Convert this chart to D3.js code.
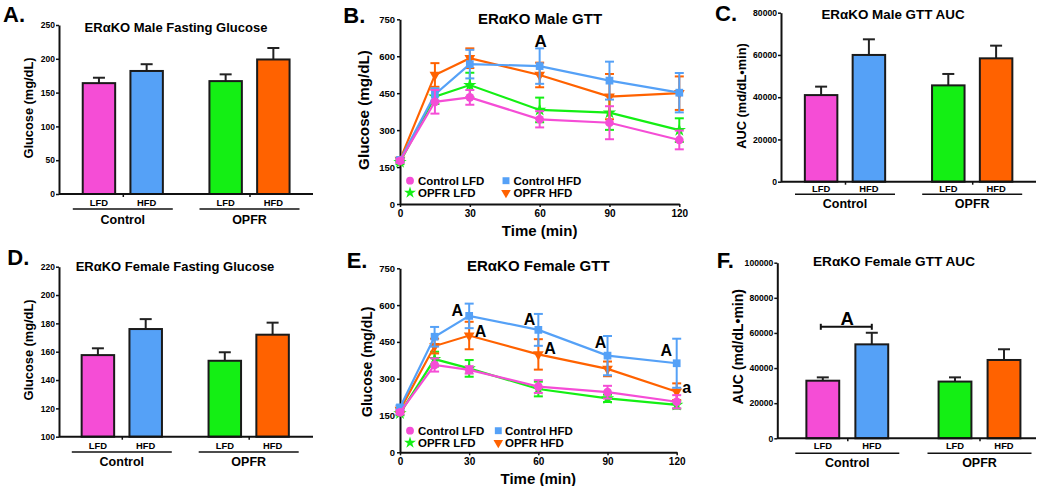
<!DOCTYPE html>
<html><head><meta charset="utf-8">
<script src="https://cdn.jsdelivr.net/npm/d3@7"></script>
<style>
body{margin:0;background:#fff}
svg{display:block}
text{font-family:"Liberation Sans",Arial,Helvetica,sans-serif;font-weight:bold;fill:#000}
</style>
</head><body>
<svg id="c" width="1050" height="486"></svg>
<script>
// ---------------- DATA ----------------
const groups = ["Control", "OPFR"];
const diets = ["LFD", "HFD"];
const seriesNames = ["Control LFD", "Control HFD", "OPFR LFD", "OPFR HFD"];

// Fasting glucose / AUC bars (order: Control LFD, Control HFD, OPFR LFD, OPFR HFD)
const maleFastingMean = [164, 182, 167, 199];
const maleFastingSem = [8, 10, 10, 17];
const maleAucMean = [41000, 60000, 45600, 58400];
const maleAucSem = [4000, 7400, 5400, 6000];
const femaleFastingMean = [157.6, 176, 153.6, 172];
const femaleFastingSem = [4.8, 7, 6, 8.5];
const femaleAucMean = [32800, 53500, 32300, 44600];
const femaleAucSem = [1900, 6600, 2400, 6100];

// GTT time course
const timePoints = [0, 15, 30, 60, 90, 120];
const maleCtrlLFD = [175, 415, 433, 344, 330, 260];
const maleCtrlLFDErr = [8, 48, 30, 33, 67, 38];
const maleCtrlHFD = [179, 445, 568, 560, 501, 452];
const maleCtrlHFDErr = [8, 25, 58, 72, 77, 80];
const maleOpfrLFD = [170, 436, 483, 382, 371, 300];
const maleOpfrLFDErr = [8, 30, 50, 50, 70, 48];
const maleOpfrHFD = [179, 524, 592, 524, 436, 450];
const maleOpfrHFDErr = [8, 48, 40, 50, 92, 68];

const femCtrlLFD = [163, 356, 336, 268, 245, 206];
const femCtrlLFDErr = [8, 27, 15, 26, 26, 27];
const femCtrlHFD = [183, 471, 556, 499, 394, 363];
const femCtrlHFDErr = [8, 40, 50, 65, 80, 100];
const femOpfrLFD = [159, 380, 342, 258, 220, 193];
const femOpfrLFDErr = [8, 30, 34, 30, 15, 15];
const femOpfrHFD = [173, 433, 476, 399, 340, 247];
const femOpfrHFDErr = [8, 30, 56, 62, 30, 34];

// tick labels
const fastingMaleTicks = [0, 50, 100, 150, 200, 250];
const fastingFemaleTicks = [100, 120, 140, 160, 180, 200, 220];
const aucMaleTicks = [0, 20000, 40000, 60000, 80000];
const aucFemaleTicks = [0, 20000, 40000, 60000, 80000, 100000];
const gttYTicks = [0, 150, 300, 450, 600, 750];
const gttXTicks = [0, 30, 60, 90, 120];

// significance annotations (time, glucose, label)
const maleGttAnnot = [{t: 60.4, v: 658, s: "A"}];
const femGttAnnot = [
  {t: 24.8, v: 578, s: "A"}, {t: 34.9, v: 493, s: "A"}, {t: 56.2, v: 541, s: "A"},
  {t: 65.1, v: 424, s: "A"}, {t: 87.0, v: 446, s: "A"}, {t: 115.5, v: 415, s: "A"},
  {t: 124.3, v: 265, s: "a"}
];

// ---------------- STYLE ----------------
const colors = ["#f54dd6", "#55a1f7", "#14ef14", "#ff6200"];
const symbols = [d3.symbolCircle, d3.symbolSquare, d3.symbolStar, d3.symbolTriangle];
const symRot = [0, 0, 0, 180];
const symSize = [60, 60, 55, 50];

const svg = d3.select("#c");

function panelLetter(txt, x, y) {
  svg.append("text").attr("x", x).attr("y", y).attr("font-size", 22).text(txt);
}
function centered(txt, x, y, size, rot) {
  const t = svg.append("text").attr("text-anchor", "middle").attr("dominant-baseline", "central")
    .attr("font-size", size).text(txt);
  if (rot) t.attr("transform", `translate(${x},${y}) rotate(-90)`);
  else t.attr("x", x).attr("y", y);
  return t;
}

function barPanel(cfg) {
  const g = svg.append("g");
  const y = d3.scaleLinear().domain(cfg.domain).range([cfg.yBase, cfg.yTop]);
  const gx = d3.scalePoint().domain(groups).range(cfg.groupCenters);
  const dx = d3.scaleBand().domain(diets).range([-cfg.half, cfg.half])
    .paddingInner(cfg.pad).paddingOuter(cfg.pad / 2);
  const data = [];
  groups.forEach((gr, i) => diets.forEach((d, j) => {
    const k = i * 2 + j;
    data.push({g: gr, d: d, v: cfg.mean[k], e: cfg.sem[k], c: colors[k]});
  }));
  const bw = dx.bandwidth();
  // error bars (upper only)
  g.selectAll(".eb").data(data).join("line")
    .attr("x1", d => gx(d.g) + dx(d.d) + bw / 2).attr("x2", d => gx(d.g) + dx(d.d) + bw / 2)
    .attr("y1", d => y(d.v)).attr("y2", d => y(d.v + d.e))
    .attr("stroke", "#222").attr("stroke-width", 2);
  g.selectAll(".cap").data(data).join("line")
    .attr("x1", d => gx(d.g) + dx(d.d) + bw / 2 - 6).attr("x2", d => gx(d.g) + dx(d.d) + bw / 2 + 6)
    .attr("y1", d => y(d.v + d.e)).attr("y2", d => y(d.v + d.e))
    .attr("stroke", "#222").attr("stroke-width", 2);
  g.selectAll("rect").data(data).join("rect")
    .attr("x", d => gx(d.g) + dx(d.d)).attr("width", bw)
    .attr("y", d => y(d.v)).attr("height", d => y(cfg.domain[0]) - y(d.v))
    .attr("fill", d => d.c).attr("stroke", "#1a1a1a").attr("stroke-width", 2);
  // y axis
  const ya = g.append("g").attr("transform", `translate(${cfg.x0},0)`)
    .call(d3.axisLeft(y).tickValues(cfg.ticks).tickSize(3).tickSizeOuter(0).tickPadding(1).tickFormat(d3.format("d")));
  ya.select(".domain").attr("stroke", "#111").attr("stroke-width", 2);
  ya.selectAll(".tick line").attr("stroke", "#111").attr("stroke-width", 1.5);
  ya.selectAll(".tick text").attr("font-size", cfg.tickFont).attr("font-family", null).attr("fill", "#000");
  // x axis line with group ticks
  const xa = g.append("g").attr("transform", `translate(0,${cfg.yBase})`)
    .call(d3.axisBottom(gx).tickSize(3).tickSizeOuter(0).tickFormat(""));
  xa.select(".domain").attr("d", `M${cfg.x0},0H${cfg.x1}`).attr("stroke", "#111").attr("stroke-width", 2);
  xa.selectAll(".tick line").attr("stroke", "#111").attr("stroke-width", 1.5);
  // diet labels
  g.selectAll(".dl").data(data).join("text")
    .attr("x", d => gx(d.g) + dx(d.d) + bw / 2).attr("y", cfg.yBase + cfg.labelDy)
    .attr("text-anchor", "middle").attr("dominant-baseline", "central").attr("font-size", 9.4)
    .text(d => d.d);
  // group underlines + names
  g.selectAll(".ul").data(groups).join("line")
    .attr("x1", d => gx(d) - cfg.lineHalf).attr("x2", d => gx(d) + cfg.lineHalf)
    .attr("y1", cfg.yBase + cfg.lineDy).attr("y2", cfg.yBase + cfg.lineDy)
    .attr("stroke", "#111").attr("stroke-width", 1.6);
  g.selectAll(".gn").data(groups).join("text")
    .attr("x", d => gx(d)).attr("y", cfg.yBase + cfg.groupDy)
    .attr("text-anchor", "middle").attr("dominant-baseline", "central").attr("font-size", 12.5)
    .text(d => d);
  centered(cfg.title, cfg.titleX, cfg.titleY, cfg.titleFont);
  centered(cfg.yTitle, cfg.yTitleX, cfg.yTitleY, cfg.yTitleFont, true);
  return {g, y, gx, dx};
}

function gttPanel(cfg) {
  const g = svg.append("g");
  const x = d3.scaleLinear().domain([0, 120]).range([cfg.x0, cfg.x1]);
  const y = d3.scaleLinear().domain([0, 750]).range([cfg.yBase, cfg.yTop]);
  const ya = g.append("g").attr("transform", `translate(${cfg.x0},0)`)
    .call(d3.axisLeft(y).tickValues(gttYTicks).tickSize(3).tickSizeOuter(0).tickPadding(2));
  ya.select(".domain").attr("stroke", "#111").attr("stroke-width", 2);
  ya.selectAll(".tick line").attr("stroke", "#111").attr("stroke-width", 1.5);
  ya.selectAll(".tick text").attr("font-size", 9.5).attr("font-family", null).attr("fill", "#000");
  const xa = g.append("g").attr("transform", `translate(0,${cfg.yBase})`)
    .call(d3.axisBottom(x).tickValues(gttXTicks).tickSize(3).tickSizeOuter(0).tickPadding(3));
  xa.select(".domain").attr("stroke", "#111").attr("stroke-width", 2);
  xa.selectAll(".tick line").attr("stroke", "#111").attr("stroke-width", 1.5);
  xa.selectAll(".tick text").attr("font-size", 10).attr("font-family", null).attr("fill", "#000");

  const order = [2, 3, 1, 0];
  order.forEach(k => {
    const vals = cfg.series[k], errs = cfg.errs[k];
    const pts = timePoints.map((t, i) => ({t, v: vals[i], e: errs[i]}));
    const sg = g.append("g");
    sg.append("path").datum(pts)
      .attr("d", d3.line().x(d => x(d.t)).y(d => y(d.v)))
      .attr("fill", "none").attr("stroke", colors[k]).attr("stroke-width", 2.2);
    sg.selectAll(".ev").data(pts).join("line")
      .attr("x1", d => x(d.t)).attr("x2", d => x(d.t))
      .attr("y1", d => y(d.v - d.e)).attr("y2", d => y(d.v + d.e))
      .attr("stroke", colors[k]).attr("stroke-width", 2);
    [1, -1].forEach(sgn => {
      sg.selectAll(".c" + sgn).data(pts).join("line")
        .attr("x1", d => x(d.t) - 4.5).attr("x2", d => x(d.t) + 4.5)
        .attr("y1", d => y(d.v + sgn * d.e)).attr("y2", d => y(d.v + sgn * d.e))
        .attr("stroke", colors[k]).attr("stroke-width", 2);
    });
    sg.selectAll(".m").data(pts).join("path")
      .attr("d", d3.symbol().type(symbols[k]).size(symSize[k]))
      .attr("transform", d => `translate(${x(d.t)},${y(d.v)}) rotate(${symRot[k]})`)
      .attr("fill", colors[k]);
  });
  // annotations
  g.selectAll(".an").data(cfg.annot).join("text")
    .attr("x", d => x(d.t)).attr("y", d => y(d.v))
    .attr("text-anchor", "middle").attr("dominant-baseline", "central")
    .attr("font-size", cfg.annotFont).text(d => d.s);
  // legend
  const legPos = [[0, 0], [1, 0], [0, 1], [1, 1]];
  seriesNames.forEach((nm, k) => {
    const lx = cfg.legX[legPos[k][0]], ly = cfg.legY[legPos[k][1]];
    g.append("path").attr("d", d3.symbol().type(symbols[k]).size(symSize[k] * 0.8))
      .attr("transform", `translate(${lx},${ly}) rotate(${symRot[k]})`).attr("fill", colors[k]);
    g.append("text").attr("x", lx + cfg.legTextDx[legPos[k][0]]).attr("y", ly)
      .attr("dominant-baseline", "central").attr("font-size", 11.5).text(nm);
  });
  centered(cfg.title, cfg.titleX, cfg.titleY, 15);
  centered("Glucose (mg/dL)", cfg.yTitleX, cfg.yTitleY, cfg.yTitleFont, true);
  centered("Time (min)", (cfg.x0 + cfg.x1) / 2, cfg.xTitleY, 15);
}

// ---------------- PANELS ----------------
barPanel({
  domain: [0, 250], ticks: fastingMaleTicks, yBase: 194, yTop: 25, x0: 59, x1: 313,
  groupCenters: [122.8, 249.5], half: 47.7, pad: 0.32,
  mean: maleFastingMean, sem: maleFastingSem, tickFont: 8.5,
  labelDy: 8.3, lineDy: 15, lineHalf: 50, groupDy: 26,
  title: "ERαKO Male Fasting Glucose", titleX: 176, titleY: 27.3, titleFont: 13,
  yTitle: "Glucose (mg/dL)", yTitleX: 28, yTitleY: 108, yTitleFont: 12.8
});
barPanel({
  domain: [0, 80000], ticks: aucMaleTicks, yBase: 181.7, yTop: 12.7, x0: 781, x1: 1036,
  groupCenters: [845, 972.2], half: 47.8, pad: 0.32,
  mean: maleAucMean, sem: maleAucSem, tickFont: 8.6,
  labelDy: 6.6, lineDy: 12.6, lineHalf: 50, groupDy: 22.3,
  title: "ERαKO Male GTT AUC", titleX: 893, titleY: 14.7, titleFont: 13.4,
  yTitle: "AUC (md/dL•min)", yTitleX: 741.7, yTitleY: 96, yTitleFont: 12.8
});
barPanel({
  domain: [100, 220], ticks: fastingFemaleTicks, yBase: 436.7, yTop: 266.7, x0: 59, x1: 313,
  groupCenters: [121.8, 248.7], half: 47.8, pad: 0.32,
  mean: femaleFastingMean, sem: femaleFastingSem, tickFont: 8.5,
  labelDy: 8.3, lineDy: 15.3, lineHalf: 50, groupDy: 25,
  title: "ERαKO Female Fasting Glucose", titleX: 175, titleY: 266.7, titleFont: 13,
  yTitle: "Glucose (mg/dL)", yTitleX: 28, yTitleY: 350, yTitleFont: 12.8
});
const fPanel = barPanel({
  domain: [0, 100000], ticks: aucFemaleTicks, yBase: 438.3, yTop: 262.7, x0: 777.3, x1: 1036,
  groupCenters: [847.3, 979.5], half: 49, pad: 0.33,
  mean: femaleAucMean, sem: femaleAucSem, tickFont: 8.6,
  labelDy: 7.4, lineDy: 15, lineHalf: 52, groupDy: 24.4,
  title: "ERαKO Female GTT AUC", titleX: 894, titleY: 261.7, titleFont: 13.6,
  yTitle: "AUC (md/dL•min)", yTitleX: 738.3, yTitleY: 346.7, yTitleFont: 14
});
// F significance bracket between Control LFD and Control HFD
(function () {
  const {g, y, gx, dx} = fPanel;
  const bw = dx.bandwidth();
  const xa = gx("Control") + dx("LFD") + bw / 2 - 2, xb = gx("Control") + dx("HFD") + bw / 2;
  const yb = y(63500);
  g.append("line").attr("x1", xa).attr("x2", xb).attr("y1", yb).attr("y2", yb).attr("stroke", "#111").attr("stroke-width", 2);
  [xa, xb].forEach(xx => g.append("line").attr("x1", xx).attr("x2", xx).attr("y1", yb - 3).attr("y2", yb + 3)
    .attr("stroke", "#111").attr("stroke-width", 2));
  g.append("text").attr("x", (xa + xb) / 2 + 1).attr("y", y(68300)).attr("text-anchor", "middle")
    .attr("dominant-baseline", "central").attr("font-size", 18.5).text("A");
})();

gttPanel({
  x0: 400, x1: 679.3, yBase: 204, yTop: 19.3,
  series: [maleCtrlLFD, maleCtrlHFD, maleOpfrLFD, maleOpfrHFD],
  errs: [maleCtrlLFDErr, maleCtrlHFDErr, maleOpfrLFDErr, maleOpfrHFDErr],
  annot: maleGttAnnot, annotFont: 17,
  legX: [410, 506], legY: [180.7, 192.7], legTextDx: [8, 7.5],
  title: "ERαKO Male GTT", titleX: 540, titleY: 18.3,
  yTitleX: 363.3, yTitleY: 110, yTitleFont: 15.2, xTitleY: 230
});
gttPanel({
  x0: 400, x1: 676.7, yBase: 452.3, yTop: 268.3,
  series: [femCtrlLFD, femCtrlHFD, femOpfrLFD, femOpfrHFD],
  errs: [femCtrlLFDErr, femCtrlHFDErr, femOpfrLFDErr, femOpfrHFDErr],
  annot: femGttAnnot, annotFont: 16,
  legX: [410, 498.3], legY: [430.7, 442.7], legTextDx: [8, 6.7],
  title: "ERαKO Female GTT", titleX: 538.3, titleY: 265,
  yTitleX: 366.7, yTitleY: 361.7, yTitleFont: 14, xTitleY: 478.5
});

panelLetter("A.", 3, 21.7);
panelLetter("B.", 343.3, 23);
panelLetter("C.", 715, 20.7);
panelLetter("D.", 7.3, 265);
panelLetter("E.", 346.7, 268.3);
panelLetter("F.", 716.7, 268.3);
</script>
</body></html>
